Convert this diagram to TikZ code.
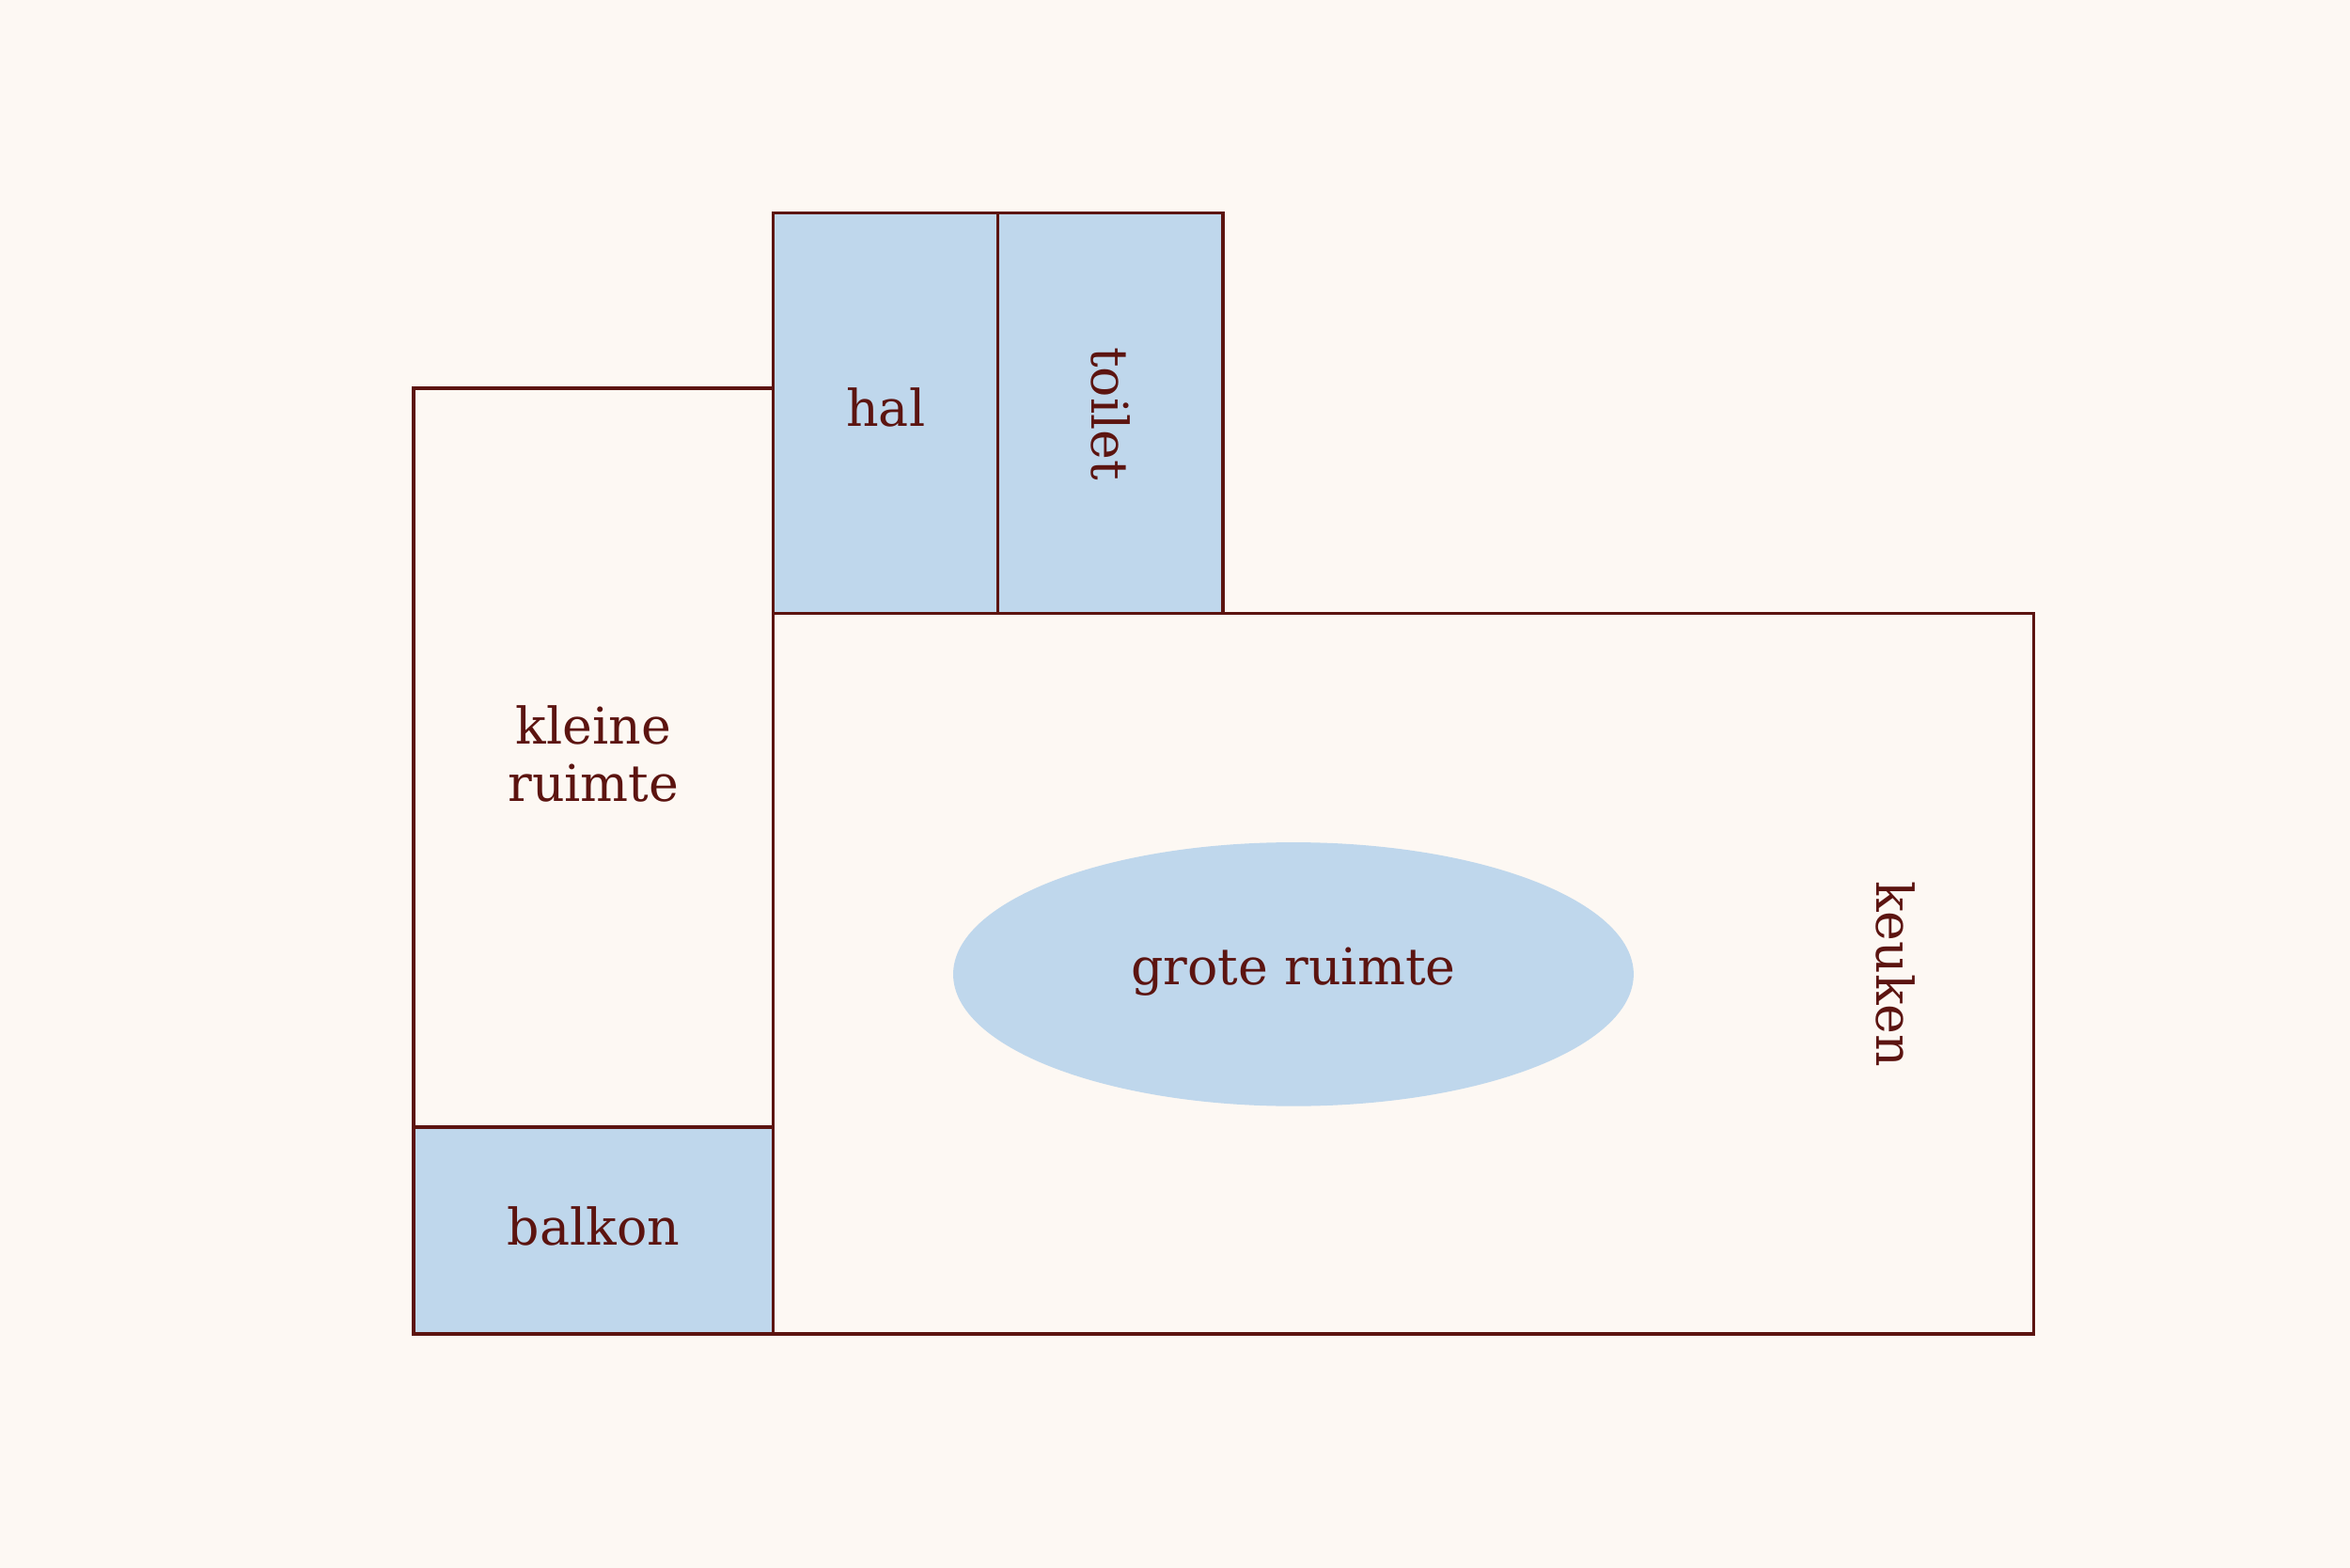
\documentclass[tikz,border=0pt]{standalone}
\usepackage{fontspec}
\setmainfont{DejaVu Serif}
\usetikzlibrary{shapes.geometric}
\definecolor{bg}{HTML}{FDF8F3}
\definecolor{room}{HTML}{BFD7EC}
\definecolor{ink}{HTML}{5C1410}
\tikzset{wall/.style={draw=ink,line width=0.2mm},
 lbl/.style={text=ink,font=\fontsize{9.6}{11}\selectfont,align=center,inner sep=0pt}}
\begin{document}
\begin{tikzpicture}[x=0.1mm,y=-0.1mm]
\fill[bg] (0,0) rectangle (1568,1046);
\useasboundingbox (0,0) rectangle (1568,1046);
\path[wall,fill=bg] (516,409) rectangle (1357,890) node[midway] (big) {};
\path[wall,fill=bg] (276,259) rectangle (516,752);
\path[wall,fill=room] (276,752) rectangle (516,890);
\path[wall,fill=room] (516,142) rectangle (666,409);
\path[wall,fill=room] (666,142) rectangle (816,409);
\node[ellipse,fill=room,minimum width=454\pgflinewidth,inner sep=0pt] (grote) at (863,650) [minimum width=45.4mm,minimum height=17.6mm] {};
\node[lbl] (tgrote) at (863,648) {grote ruimte};
\node[lbl] (hal) at (591,272) {hal};
\node[lbl,rotate=-90] (toilet) at (741,276) {toilet};
\node[lbl] (kleine) at (396,503) {kleine\\ruimte};
\node[lbl] (balkon) at (396,818) {balkon};
\node[lbl,rotate=-90] (keuken) at (1265,650) {keuken};
\end{tikzpicture}
\end{document}
